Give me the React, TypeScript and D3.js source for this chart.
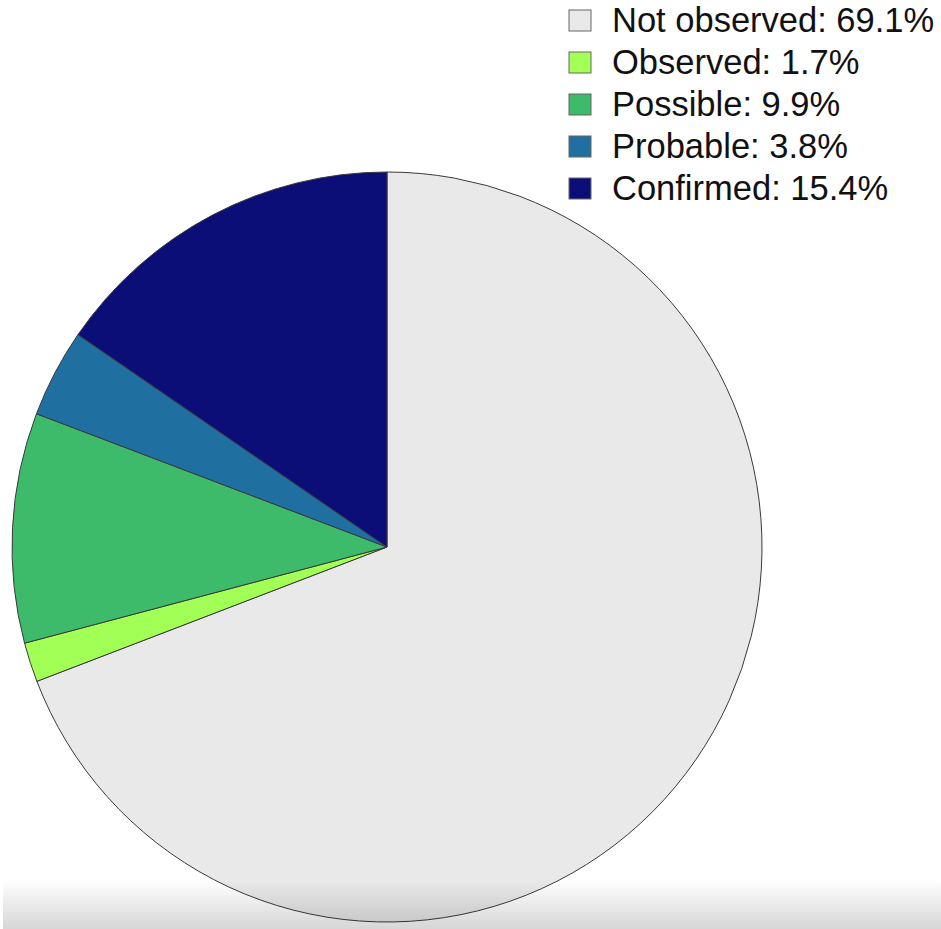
import React from "react";
import { arc, pie, PieArcDatum } from "d3";

const categories = ["Not observed", "Observed", "Possible", "Probable", "Confirmed"];
const percents = [69.1, 1.7, 9.9, 3.8, 15.4];
const colors = ["#e9e9e9", "#a2ff55", "#3dba6a", "#1f6fa0", "#0c0e78"];

const width = 941;
const height = 929;
const cx = 387;
const cy = 547;
const radius = 375;

type Slice = { name: string; value: number; color: string };

const data: Slice[] = categories.map((name, i) => ({
  name,
  value: percents[i],
  color: colors[i],
}));

const App = () => {
  const slices = pie<Slice>()
    .sort(null)
    .value((d) => d.value)(data);

  const arcGen = arc<PieArcDatum<Slice>>().innerRadius(0).outerRadius(radius);

  return (
    <svg
      width={width}
      height={height}
      style={{ position: "absolute", left: 0, top: 0, background: "#fff" }}
      fontFamily="Liberation Sans, Arial, sans-serif"
    >
      <defs>
        <linearGradient id="shade" x1="0" y1="0" x2="0" y2="1">
          <stop offset="0" stopColor="#000" stopOpacity={0} />
          <stop offset="1" stopColor="#000" stopOpacity={0.16} />
        </linearGradient>
      </defs>

      <g transform={`translate(${cx},${cy})`}>
        {slices.map((s, i) => (
          <path
            key={i}
            d={arcGen(s) || ""}
            fill={s.data.color}
            stroke="#3a3a3a"
            strokeWidth={1}
          />
        ))}
      </g>

      <g transform="translate(569,10)">
        {data.map((d, i) => (
          <g key={i} transform={`translate(0,${i * 42})`}>
            <rect
              x={0}
              y={0}
              width={22}
              height={21}
              fill={d.color}
              stroke="#666"
              strokeWidth={1}
            />
            <text x={43} y={22} fontSize={34.5} fill="#111">
              {`${d.name}: ${d.value}%`}
            </text>
          </g>
        ))}
      </g>

      <rect x={3} y={880} width={width - 3} height={height - 880} fill="url(#shade)" />
    </svg>
  );
};

export default App;
